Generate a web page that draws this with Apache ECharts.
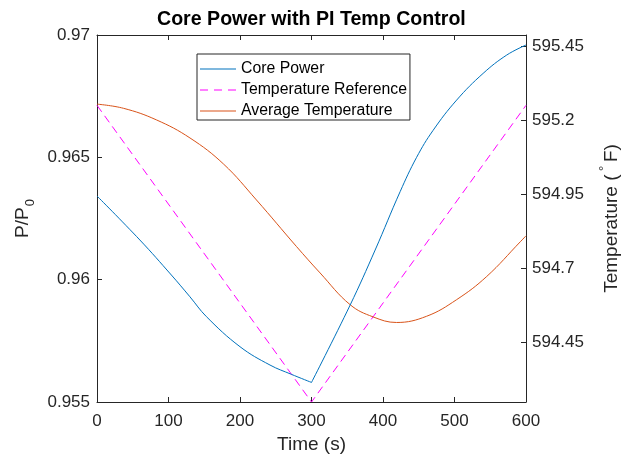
<!DOCTYPE html>
<html>
<head>
<meta charset="utf-8">
<script src="https://cdn.jsdelivr.net/npm/echarts@6/dist/echarts.min.js"></script>
<style>
html,body{margin:0;padding:0;background:#fff;}
#chart{width:629px;height:458px;}
</style>
</head>
<body>
<div id="chart"></div>
<script>
// ---- data ----
const timeTicks = [0, 100, 200, 300, 400, 500, 600];
const powerTicks = [0.955, 0.96, 0.965, 0.97];
const tempTicks = [594.45, 594.7, 594.95, 595.2, 595.45];

// Core Power (P/P0), falling part and rising part
const powerTimeA  = [0, 60, 104, 130, 153, 200, 242, 272, 300];
const powerValueA = [0.96342, 0.96162, 0.96019, 0.95930, 0.95849, 0.95726, 0.95651, 0.95613, 0.95580];
const powerTimeB  = [300, 354, 389, 424, 447, 470, 503, 540, 573, 600];
const powerValueB = [0.95580, 0.95896, 0.96121, 0.96360, 0.96500, 0.96610, 0.96734, 0.96843, 0.96918, 0.96959];

// Temperature Reference (F)
const refTime  = [0, 300, 600];
const refValue = [595.25, 594.25, 595.25];

// Average Temperature (F)
const avgTime  = [0, 37, 83, 130, 177, 223, 279, 312, 354, 386, 419, 461, 503, 545, 592, 600];
const avgValue = [595.254, 595.240, 595.201, 595.140, 595.052, 594.931, 594.774, 594.685, 594.578, 594.537, 594.518, 594.539, 594.595, 594.673, 594.790, 594.810];

function pairs(t, v) { return t.map((x, i) => [x, v[i]]); }

const FONT = 'Liberation Sans, Arial, Helvetica, sans-serif';
const AX = '#262626';
const BLUE = '#0072BD', ORANGE = '#D95319', MAGENTA = '#FF00FF';
const SOLID_ICON = 'path://M0,0H36V1H0Z';
const DASH_ICON = 'path://M0,0H8V1H0Z M14,0H22V1H14Z M28,0H36V1H28Z';

const chart = echarts.init(document.getElementById('chart'), null, {renderer: 'canvas'});
const axisLineStyle = {color: AX, width: 1};

const option = {
  animation: false,
  backgroundColor: '#fff',
  title: {
    text: 'Core Power with PI Temp Control',
    left: 157, top: 10, padding: 0,
    textStyle: {fontFamily: FONT, fontSize: 19.6, fontWeight: 'bold', color: '#000'}
  },
  legend: {
    data: [
      {name: 'Core Power', icon: SOLID_ICON},
      {name: 'Temperature Reference', icon: DASH_ICON},
      {name: 'Average Temperature', icon: SOLID_ICON}
    ],
    orient: 'vertical', left: 197, top: 54,
    itemWidth: 36, itemHeight: 15, itemGap: 5,
    symbolKeepAspect: true,
    padding: [7, 3, 1, 3],
    borderColor: AX, borderWidth: 1, borderRadius: 0,
    backgroundColor: '#fff',
    textStyle: {fontFamily: FONT, fontSize: 15.8, color: '#000'}
  },
  grid: {left: 97, right: 103, top: 35, bottom: 56, containLabel: false, outerBoundsMode: 'none'},
  xAxis: [
    {
      type: 'value', position: 'bottom', min: timeTicks[0], max: timeTicks[timeTicks.length - 1], interval: 100,
      axisLine: {show: true, onZero: false, lineStyle: axisLineStyle},
      axisTick: {show: true, inside: true, length: 5, lineStyle: axisLineStyle},
      axisLabel: {show: true, fontFamily: FONT, fontSize: 17, color: AX, margin: 11},
      splitLine: {show: false},
      name: 'Time (s)', nameLocation: 'middle', nameGap: 30,
      nameTextStyle: {fontFamily: FONT, fontSize: 19, color: AX}
    },
    {
      type: 'value', position: 'top', min: timeTicks[0], max: timeTicks[timeTicks.length - 1], interval: 100,
      axisLine: {show: true, onZero: false, lineStyle: axisLineStyle},
      axisTick: {show: true, inside: true, length: 5, lineStyle: axisLineStyle},
      axisLabel: {show: false},
      splitLine: {show: false}
    }
  ],
  yAxis: [
    {
      type: 'value', position: 'left', min: powerTicks[0], max: powerTicks[powerTicks.length - 1], interval: 0.005,
      axisLine: {show: true, onZero: false, lineStyle: axisLineStyle},
      axisTick: {show: true, inside: true, length: 5, lineStyle: axisLineStyle},
      axisLabel: {show: true, fontFamily: FONT, fontSize: 17, color: AX, margin: 7,
                  formatter: v => String(+(+v).toFixed(3))},
      splitLine: {show: false},
      name: '{m|P/P}{s|0}', nameLocation: 'middle', nameGap: 45,
      nameTextStyle: {
        fontFamily: FONT, fontSize: 19, color: AX,
        rich: {
          m: {fontFamily: FONT, fontSize: 19, color: AX},
          s: {fontFamily: FONT, fontSize: 13, color: AX, padding: [14, 0, 0, 1]}
        }
      }
    },
    {
      type: 'value', position: 'right', min: 594.25, max: 595.487,
      axisLine: {show: true, onZero: false, lineStyle: axisLineStyle},
      axisTick: {show: true, inside: true, length: 5, lineStyle: axisLineStyle, customValues: tempTicks},
      axisLabel: {show: true, fontFamily: FONT, fontSize: 17, color: AX, margin: 6, customValues: tempTicks,
                  formatter: v => String(+(+v).toFixed(2))},
      splitLine: {show: false},
      name: '{m|Temperature (}{u| ° }{m|F)}', nameLocation: 'middle', nameGap: 72,
      nameTextStyle: {
        fontFamily: FONT, fontSize: 19, color: AX,
        rich: {
          m: {fontFamily: FONT, fontSize: 19, color: AX},
          u: {fontFamily: FONT, fontSize: 13, color: AX, padding: [0, 0, 14, 0]}
        }
      }
    }
  ],
  series: [
    {
      name: 'Core Power', type: 'line', xAxisIndex: 0, yAxisIndex: 0,
      data: pairs(powerTimeA, powerValueA), symbol: 'none', smooth: 0.4,
      lineStyle: {color: BLUE, width: 1}, itemStyle: {color: BLUE}, z: 3
    },
    {
      name: 'Core Power', type: 'line', xAxisIndex: 0, yAxisIndex: 0,
      data: pairs(powerTimeB, powerValueB), symbol: 'none', smooth: 0.4,
      lineStyle: {color: BLUE, width: 1}, itemStyle: {color: BLUE}, z: 3
    },
    {
      name: 'Temperature Reference', type: 'line', xAxisIndex: 0, yAxisIndex: 1,
      data: pairs(refTime, refValue), symbol: 'none',
      lineStyle: {color: MAGENTA, width: 1, type: [8, 5]}, itemStyle: {color: MAGENTA}, z: 2
    },
    {
      name: 'Average Temperature', type: 'line', xAxisIndex: 0, yAxisIndex: 1,
      data: pairs(avgTime, avgValue), symbol: 'none', smooth: 0.4,
      lineStyle: {color: ORANGE, width: 1}, itemStyle: {color: ORANGE}, z: 2
    }
  ]
};
chart.setOption(option);
</script>
</body>
</html>
